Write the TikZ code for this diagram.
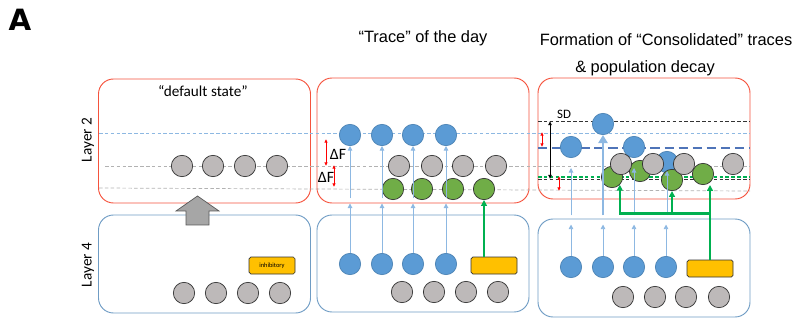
\documentclass[tikz,border=0pt]{standalone}
\usepackage{fontspec}
\setmainfont{Carlito}
\newfontfamily\arialfont{Liberation Sans}
\newfontfamily\heavyfont{DejaVu Sans}
\usetikzlibrary{arrows.meta}

\definecolor{boxred}{HTML}{F5533D}
\definecolor{boxblue}{HTML}{6F9CC4}
\definecolor{cellblue}{HTML}{5B9BD5}
\definecolor{cellgrey}{HTML}{BDB9B9}
\definecolor{cellgreen}{HTML}{70AD47}
\definecolor{inhibyellow}{HTML}{FFC000}
\definecolor{linkblue}{HTML}{8DB8E2}
\definecolor{linkgreen}{HTML}{00B050}
\definecolor{navyline}{HTML}{4F74B8}

\begin{document}
\begin{tikzpicture}[x=0.03cm, y=-0.03cm,
    redbox/.style={draw=boxred, line width=0.8pt, rounded corners=0.45cm, minimum width=6.36cm},
    bluebox/.style={draw=boxblue, line width=0.8pt, rounded corners=0.45cm, minimum width=6.36cm},
    cell/.style={circle, inner sep=0pt, minimum size=0.64cm, line width=0.6pt},
    bluec/.style={cell, fill=cellblue, draw=cellblue!85!black},
    greyc/.style={cell, fill=cellgrey, draw=black!80},
    greenc/.style={cell, fill=cellgreen, draw=black!80},
    inhib/.style={draw=black!80, fill=inhibyellow, rounded corners=1.5pt, line width=0.6pt,
        minimum width=1.38cm, minimum height=0.51cm, inner sep=0pt},
    barrow/.style={draw=linkblue, line width=0.8pt, -{Triangle[length=4pt,width=4pt]}},
    garrow/.style={draw=linkgreen, line width=1.3pt, -{Triangle[length=5pt,width=5pt]}},
    redarr/.style={draw=red, line width=0.7pt, {Latex[length=3pt,width=3pt]}-{Latex[length=3pt,width=3pt]}},
    guide/.style={dashed, line width=0.6pt, dash pattern=on 3pt off 2pt},
    title/.style={font=\arialfont\fontsize{14}{16}\selectfont}]
    \useasboundingbox (0,0) rectangle (797,320);

    \node[font=\heavyfont\bfseries\fontsize{25}{27}\selectfont] (lbl) at (20,20) {A};
    \node[title] (t2) at (423,38) {“Trace” of the day};
    \node[title] (t3a) at (666,40) {Formation of “Consolidated” traces};
    \node[title] (t3b) at (645,68) {\& population decay};
    \node[font=\fontsize{13}{15}\selectfont] (t1) at (203,91) {“default state”};
    \node[rotate=90, font=\fontsize{13}{15}\selectfont] (l2) at (88,140) {Layer 2};
    \node[rotate=90, font=\fontsize{13}{15}\selectfont] (l4) at (88,265) {Layer 4};

    \node[redbox, minimum height=3.72cm] (p1top) at (204.5,141) {};
    \node[bluebox, minimum height=2.94cm] (p1bot) at (204.5,264) {};
    \node[redbox, minimum height=3.75cm] (p2top) at (423,140.5) {};
    \node[bluebox, minimum height=2.91cm] (p2bot) at (423,263.5) {};
    \node[redbox, minimum height=3.63cm] (p3top) at (644,138.5) {};
    \node[bluebox, minimum height=2.94cm] (p3bot) at (644,268) {};

    \draw[guide, draw=linkblue] (99,133) -- (750,133);
    \draw[guide, draw=black!30] (105,166) -- (750,166);
    \draw[guide, draw=black!30] (99,188) -- (750,191);
    \draw[guide, draw=black!80] (538,121) -- (750,121);
    \draw[dashed, line width=1pt, draw=navyline, dash pattern=on 8pt off 4pt] (538,148) -- (750,148);
    \draw[guide, draw=linkgreen, line width=0.9pt] (538,177) -- (750,177);
    \draw[guide, draw=black!80] (538,179) -- (750,179);

    \foreach \x [count=\i] in {182,213,245,277}
        \node[greyc] (n1\i) at (\x,166) {};
    \foreach \x [count=\i] in {184,216,248,280}
        \node[greyc] (m1\i) at (\x,293) {};
    \node[inhib] (y1) at (272,265.5) {\fontsize{5.5}{6}\selectfont inhibitory};
    \draw[fill=black!35, draw=black!65, line width=0.6pt]
        (186,225) -- (186,211) -- (176,211) -- (197.5,196) -- (219,211) -- (209,211) -- (209,225) -- cycle;

    \foreach \x [count=\i] in {350,382,413,446} {
        \node[bluec] (a2\i) at (\x,135) {};
        \node[bluec] (b2\i) at (\x,264) {};
    }
    \foreach \x [count=\i] in {399,432,463,496}
        \node[greyc] (n2\i) at (\x,166) {};
    \foreach \x [count=\i] in {393,422,453,484}
        \node[greenc] (g2\i) at (\x,189) {};
    \foreach \x [count=\i] in {402,434,466,498}
        \node[greyc] (m2\i) at (\x,292) {};
    \node[inhib] (y2) at (494,265.5) {};
    \foreach \i in {1,...,4} {
        \draw[barrow] (b2\i.north) -- (b2\i.north |- p2top.south);
        \draw[barrow] ([yshift=0.15cm]a2\i |- p2top.south) -- (a2\i.south);
    }
    \draw[garrow, line width=1pt] (g24.south |- y2.north) -- (g24.south);
    \draw[redarr] (326,139) -- (326,166);
    \draw[redarr] (334,165) -- (334,187);
    \node[font=\fontsize{13.5}{15}\selectfont] (df1) at (338,154) {ΔF};
    \node[font=\fontsize{13.5}{15}\selectfont] (df2) at (326,177) {ΔF};

    \node[bluec] (a31) at (571,147) {};
    \node[bluec] (a32) at (603,124) {};
    \node[bluec] (a33) at (634,147) {};
    \node[bluec] (a34) at (667,162) {};
    \node[greenc] (g31) at (612,177) {};
    \node[greenc] (g32) at (640,171) {};
    \node[greenc] (g33) at (672,180) {};
    \node[greenc] (g34) at (703,174) {};
    \foreach \x [count=\i] in {621,653,684,733}
        \node[greyc] (n3\i) at (\x,164) {};
    \foreach \x [count=\i] in {571,603,634,666}
        \node[bluec] (b3\i) at (\x,267) {};
    \foreach \x [count=\i] in {623,655,686,719}
        \node[greyc] (m3\i) at (\x,297) {};
    \node[inhib] (y3) at (710,268.5) {};
    \foreach \i in {1,...,4}
        \draw[barrow] (b3\i.north) -- ([yshift=-0.18cm]b3\i.north |- p3bot.north);
    \draw[barrow] ([yshift=-0.48cm]a31 |- p3top.south) -- ([yshift=-0.12cm]a31 |- n31);
    \draw[barrow, line width=2.5pt, -{Triangle[length=7pt,width=8pt]}] ([yshift=-0.48cm]a32 |- p3top.south) -- (a32.south);
    \draw[barrow] ([yshift=-0.48cm]a33 |- p3top.south) -- ([yshift=-0.12cm]a33 |- n31);
    \draw[barrow] ([yshift=-0.48cm]a34 |- p3top.south) -- (a34 |- g32);
    \coordinate (j3) at ([yshift=-0.42cm]y3.north |- p3top.south);
    \draw[garrow, line width=2pt] (y3.north) -- (y3.north |- g34.south);
    \draw[garrow, line width=2pt] (j3) -| (g31.south east);
    \draw[garrow, line width=2pt] (g33 |- j3) -- (g33);
    \draw[redarr] (542,132) -- (542,147);
    \draw[redarr] (559,176) -- (559,191);
    \draw[draw=black, line width=0.7pt, {Latex[length=3.5pt,width=3.5pt]}-{Latex[length=3.5pt,width=3.5pt]}] (550,121) -- (550,179);
    \node[font=\fontsize{11}{12}\selectfont] (sd) at (564,114) {SD};
\end{tikzpicture}
\end{document}
